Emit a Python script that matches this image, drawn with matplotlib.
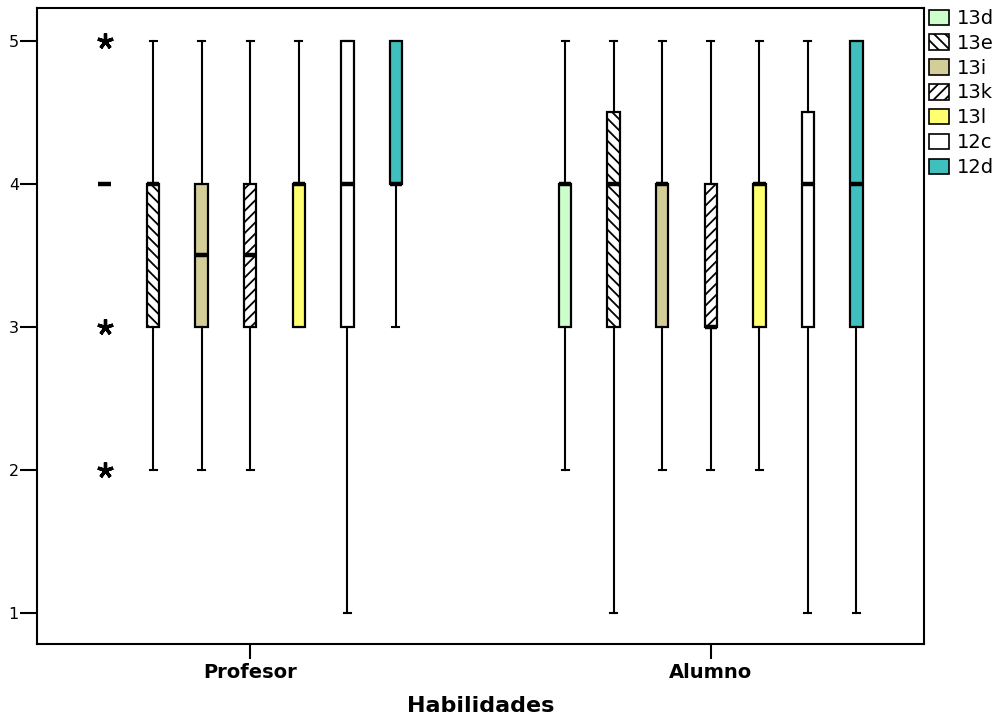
import matplotlib
matplotlib.use("Agg")
import matplotlib.pyplot as plt
from matplotlib.patches import Patch

plt.rcParams['font.family'] = ['DejaVu Sans']
plt.rcParams['hatch.linewidth'] = 1.3

groups = ["Profesor", "Alumno"]
series = ["13d", "13e", "13i", "13k", "13l", "12c", "12d"]
colors = ["#CCFFCC", "#FFFFFF", "#D3CE97", "#FFFFFF", "#FFFF70", "#FFFFFF", "#40BFBF"]
hatches = ["", "\\\\\\", "", "///", "", "", ""]

# stats per group: (q1, med, q3, whislo, whishi, fliers)
profesor_q1 = [4, 3, 3, 3, 3, 3, 4]
profesor_med = [4, 4, 3.5, 3.5, 4, 4, 4]
profesor_q3 = [4, 4, 4, 4, 4, 5, 5]
profesor_lo = [4, 2, 2, 2, 3, 1, 3]
profesor_hi = [4, 5, 5, 5, 5, 5, 5]
profesor_fliers = [[5, 3, 2], [], [], [], [], [], []]

alumno_q1 = [3, 3, 3, 3, 3, 3, 3]
alumno_med = [4, 4, 4, 3, 4, 4, 4]
alumno_q3 = [4, 4.5, 4, 4, 4, 4.5, 5]
alumno_lo = [2, 1, 2, 2, 2, 1, 1]
alumno_hi = [5, 5, 5, 5, 5, 5, 5]
alumno_fliers = [[], [], [], [], [], [], []]

yticks = [1, 2, 3, 4, 5]

fig = plt.figure(figsize=(10.03, 7.16), dpi=100)
ax = fig.add_axes([37/1003, 1-644/716, (924-37)/1003, (644-8)/716])

spacing = 0.1054
width = 0.027
data = [
    (profesor_q1, profesor_med, profesor_q3, profesor_lo, profesor_hi, profesor_fliers),
    (alumno_q1, alumno_med, alumno_q3, alumno_lo, alumno_hi, alumno_fliers),
]
for gi, (q1s, meds, q3s, los, his, fls) in enumerate(data):
    for si in range(len(series)):
        st = dict(q1=q1s[si], med=meds[si], q3=q3s[si], whislo=los[si],
                  whishi=his[si], fliers=fls[si], label=series[si])
        pos = gi + (si - 3) * spacing
        res = ax.bxp([st], positions=[pos], widths=width, patch_artist=True,
                     showfliers=True, manage_ticks=False,
                     boxprops=dict(linewidth=1.6, edgecolor="black"),
                     medianprops=dict(color="black", linewidth=3.2, solid_capstyle="butt"),
                     whiskerprops=dict(color="black", linewidth=1.5),
                     capprops=dict(color="black", linewidth=1.5),
                     capwidths=0.015,
                     flierprops=dict(marker=(5, 2, 0), markersize=11.5,
                                     markeredgewidth=2.4, markeredgecolor="black",
                                     markerfacecolor="black", linestyle="none"))
        for b in res["boxes"]:
            b.set_facecolor(colors[si])
            b.set_hatch(hatches[si])
        for c in res["caps"]:
            c.set_zorder(1)

ax.set_xlim(-0.463, 1.463)
ax.set_ylim(0.78, 5.23)
ax.set_yticks(yticks)
ax.set_yticklabels([str(v) for v in yticks], fontsize=11.5)
ax.set_xticks([0, 1])
ax.set_xticklabels(groups, fontsize=14, fontweight="bold")
ax.tick_params(axis="both", direction="out", width=1.5, color="black")
ax.tick_params(axis="x", length=11, pad=3)
ax.tick_params(axis="y", length=12, pad=1)
for sp in ax.spines.values():
    sp.set_linewidth(1.5)
ax.set_xlabel("Habilidades", fontsize=16, fontweight="bold", labelpad=10)

handles = [Patch(facecolor=colors[i], edgecolor="black", hatch=hatches[i], linewidth=1.2,
                 label=series[i]) for i in range(len(series))]
leg = fig.legend(handles=handles, loc="upper left", bbox_to_anchor=(929/1003, 1-9/716),
                 frameon=False, fontsize=14, handlelength=1.05,
                 handleheight=0.85, handletextpad=0.36, labelspacing=0.3,
                 borderpad=0, borderaxespad=0)

fig.savefig("out.png", dpi=100)
